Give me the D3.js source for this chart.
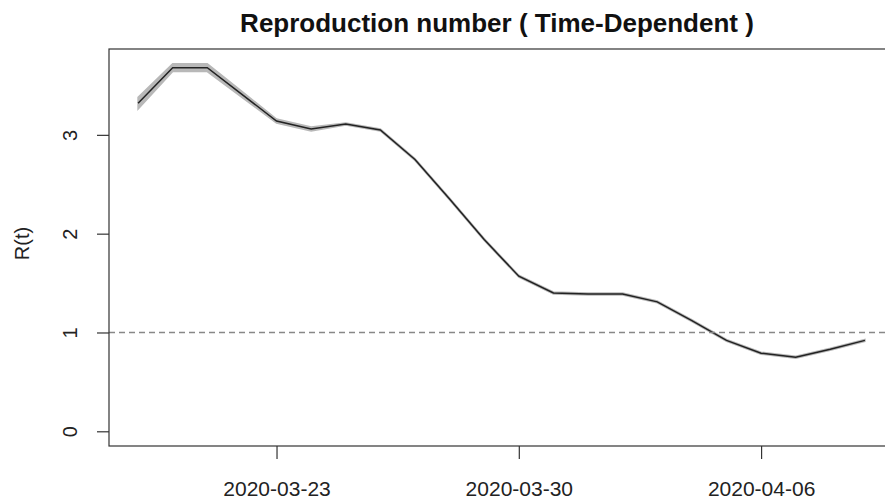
<!DOCTYPE html>
<html>
<head>
<meta charset="utf-8">
<script src="https://cdn.jsdelivr.net/npm/d3@7"></script>
<style>
  html, body { margin: 0; padding: 0; background: #fff; }
  svg { display: block; }
  text { font-family: "Liberation Sans", Arial, sans-serif; }
</style>
</head>
<body>
<script>
const dates = ["2020-03-19","2020-03-20","2020-03-21","2020-03-22","2020-03-23","2020-03-24",
  "2020-03-25","2020-03-26","2020-03-27","2020-03-28","2020-03-29","2020-03-30","2020-03-31",
  "2020-04-01","2020-04-02","2020-04-03","2020-04-04","2020-04-05","2020-04-06","2020-04-07",
  "2020-04-08","2020-04-09"];
const rt = [3.32,3.68,3.68,3.41,3.14,3.06,3.11,3.05,2.75,2.35,1.94,1.57,1.40,1.39,1.39,1.31,1.12,0.92,0.79,0.75,0.83,0.92];
const rtUpper = [3.38,3.72,3.72,3.44,3.16,3.08,3.12,3.06,2.76,2.36,1.95,1.58,1.41,1.40,1.40,1.32,1.13,0.93,0.80,0.76,0.84,0.93];
const rtLower = [3.26,3.64,3.64,3.38,3.12,3.04,3.10,3.04,2.74,2.34,1.93,1.56,1.39,1.38,1.38,1.30,1.11,0.91,0.78,0.74,0.82,0.91];
const xTicks = ["2020-03-23","2020-03-30","2020-04-06"];
const yTicks = [0,1,2,3];
const threshold = 1;
const titleText = "Reproduction number ( Time-Dependent )";
const yLabel = "R(t)";

const W = 885, H = 499;
const parse = d3.timeParse("%Y-%m-%d");
const dts = dates.map(parse);

const svg = d3.select("body").append("svg").attr("width", W).attr("height", H);

// R-style 4% padding
const x0 = dts[0].getTime(), x1 = dts[dts.length-1].getTime();
const xpad = (x1 - x0) * 0.04;
const x = d3.scaleTime().domain([new Date(x0 - xpad), new Date(x1 + xpad)]).range([109, 894]);
const yMax = d3.max(rtUpper);
const ypad = yMax * 0.04;
const y = d3.scaleLinear().domain([0 - ypad, yMax + ypad]).range([446, 49]);

// CI band
const area = d3.area().x((d,i) => x(dts[i])).y0((d,i) => y(rtLower[i])).y1((d,i) => y(rtUpper[i]));
svg.append("path").datum(rt).attr("d", area).attr("fill", "#b8b8b8").attr("stroke", "#b8b8b8").attr("stroke-width", 1.5);

// line
const line = d3.line().x((d,i) => x(dts[i])).y(d => y(d));
svg.append("path").datum(rt).attr("d", line).attr("fill", "none").attr("stroke", "#222").attr("stroke-width", 1.5);

// threshold dashed line
svg.append("line").attr("x1", 109).attr("x2", W).attr("y1", y(threshold)).attr("y2", y(threshold))
  .attr("stroke", "#888").attr("stroke-width", 1.5).attr("stroke-dasharray", "6,4");

// box
svg.append("rect").attr("x", 109).attr("y", 49).attr("width", 894 - 109).attr("height", 446 - 49)
  .attr("fill", "none").attr("stroke", "#333").attr("stroke-width", 1.2);

// x axis
const xa = svg.append("g").attr("transform", "translate(0,446)")
  .call(d3.axisBottom(x).tickValues(xTicks.map(parse)).tickFormat(d3.timeFormat("%Y-%m-%d")).tickSize(13).tickPadding(22));
xa.select(".domain").remove();
xa.selectAll("line").attr("stroke", "#333").attr("stroke-width", 1.2);
xa.selectAll("text").attr("font-size", 21).attr("fill", "#222").attr("font-family", "Liberation Sans, Arial, sans-serif");

// y axis
const ya = svg.append("g").attr("transform", "translate(109,0)")
  .call(d3.axisLeft(y).tickValues(yTicks).tickFormat(d3.format("d")).tickSize(12));
ya.select(".domain").remove();
ya.selectAll("line").attr("stroke", "#333").attr("stroke-width", 1.2);
ya.selectAll("text").remove();
ya.selectAll(".tick").append("text")
  .attr("transform", "translate(-39,0) rotate(-90)")
  .attr("text-anchor", "middle").attr("dy", "0.35em")
  .attr("font-size", 20).attr("fill", "#222")
  .text(d => d3.format("d")(d));

// y label
svg.append("text").attr("transform", `translate(22,${(49+446)/2 - 4}) rotate(-90)`)
  .attr("text-anchor", "middle").attr("dy", "0.35em").attr("font-size", 20).attr("fill", "#222").text(yLabel);

// title
svg.append("text").attr("x", 497).attr("y", 32).attr("text-anchor", "middle")
  .attr("font-size", 26).attr("font-weight", "bold").attr("fill", "#111").text(titleText);
</script>
</body>
</html>
